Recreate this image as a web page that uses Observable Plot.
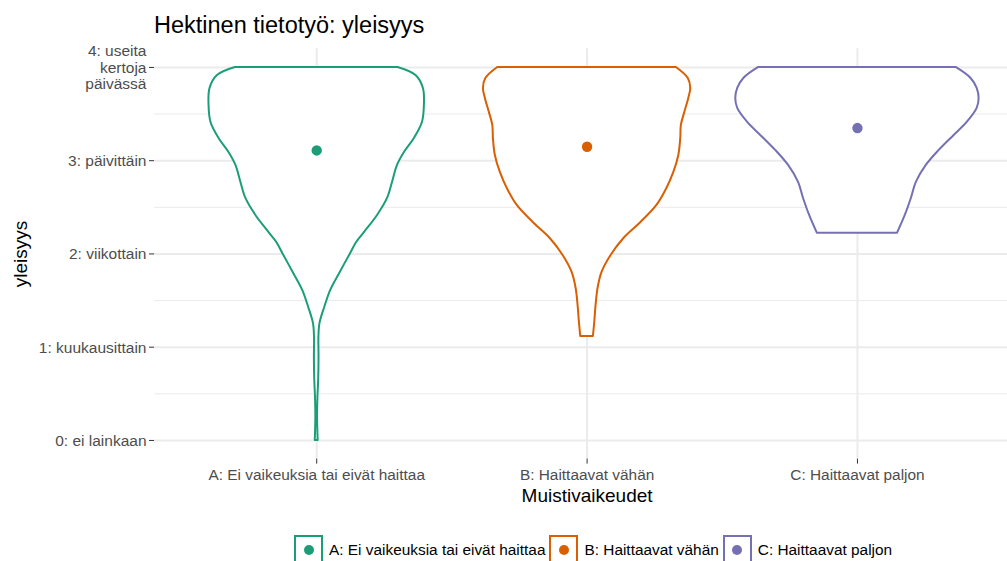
<!DOCTYPE html>
<html>
<head>
<meta charset="utf-8">
<script src="https://cdn.jsdelivr.net/npm/d3@7"></script>
<script src="https://cdn.jsdelivr.net/npm/@observablehq/plot@0.6"></script>
<style>
html, body { margin: 0; padding: 0; background: #fff; overflow: hidden; width: 1007px; height: 561px; font-family: "Liberation Sans", Arial, sans-serif; }
#wrap { position: relative; width: 1007px; height: 561px; overflow: hidden; }
#title { position: absolute; left: 154px; top: 14px; font-size: 23.5px; line-height: 23.5px; color: #000; white-space: nowrap; }
#chart { position: absolute; left: 0; top: 0; }
#legend { position: absolute; left: 294px; top: 535px; display: flex; align-items: center; height: 29px; font-size: 15.4px; color: #000; white-space: nowrap; }
.key { width: 25px; height: 25px; border: 2px solid; position: relative; background: #fff; flex: none; }
.key .pt { position: absolute; width: 10px; height: 10px; border-radius: 50%; left: 7.5px; top: 7.5px; }
.lab { margin-left: 6px; margin-right: 4px; }
</style>
</head>
<body>
<div id="wrap">
  <div id="title"></div>
  <div id="chart"></div>
  <div id="legend"></div>
</div>
<script>
// ---- data ----
const titleText = "Hektinen tietotyö: yleisyys";
const xTitle = "Muistivaikeudet";
const yTitle = "yleisyys";
const groups = ["A: Ei vaikeuksia tai eivät haittaa", "B: Haittaavat vähän", "C: Haittaavat paljon"];
const colors = ["#1b9e77", "#d95f02", "#7570b3"];
const yTicks = [0, 1, 2, 3, 4];
const yTickLabels = ["0: ei lainkaan", "1: kuukausittain", "2: viikottain", "3: päivittäin", "4: useita\nkertoja\npäivässä"];
const yMinor = [0.5, 1.5, 2.5, 3.5];
const means = [3.11, 3.15, 3.35];

// violin outlines: value levels and relative density (1 = widest violin)
const levelsA = [4.0, 3.914, 3.775, 3.592, 3.41, 3.239, 3.088, 2.949, 2.767, 2.595, 2.413, 2.231, 2.123, 2.005, 1.791, 1.609, 1.426, 1.255, 1.105, 0.89, 0.643, 0.461, 0.247, 0.0];
const densA   = [0.668, 0.816, 0.877, 0.885, 0.869, 0.803, 0.721, 0.664, 0.623, 0.582, 0.5, 0.393, 0.328, 0.279, 0.189, 0.115, 0.066, 0.027, 0.018, 0.019, 0.016, 0.01, 0.007, 0.012];
const levelsB = [4.0, 3.882, 3.775, 3.668, 3.517, 3.378, 3.239, 3.056, 2.874, 2.702, 2.52, 2.338, 2.166, 1.984, 1.802, 1.63, 1.448, 1.265, 1.115];
const densB   = [0.734, 0.832, 0.852, 0.836, 0.803, 0.775, 0.77, 0.754, 0.713, 0.656, 0.574, 0.443, 0.303, 0.197, 0.123, 0.09, 0.074, 0.063, 0.052];
const levelsC = [4.0, 3.882, 3.775, 3.668, 3.56, 3.41, 3.271, 3.11, 2.949, 2.767, 2.595, 2.413, 2.223];
const densC   = [0.811, 0.934, 0.984, 1.0, 0.984, 0.902, 0.795, 0.672, 0.566, 0.484, 0.443, 0.393, 0.33];

// ---- build tables ----
const levelSets = [levelsA, levelsB, levelsC];
const densSets = [densA, densB, densC];
const rows = [];
groups.forEach((g, i) => {
  levelSets[i].forEach((v, j) => rows.push({g, gi: i + 1, v, d: densSets[i][j]}));
});
const meanRows = groups.map((g, i) => ({g, gi: i + 1, m: means[i]}));
const halfMax = 0.45;

document.getElementById("title").textContent = titleText;

const H = 520;
const chart = Plot.plot({
  width: 1007,
  height: H,
  marginTop: 48.3,
  marginBottom: H - 458.6,
  marginLeft: 154,
  marginRight: 0,
  style: {fontFamily: "'Liberation Sans', Arial, sans-serif", background: "transparent", overflow: "visible"},
  x: {domain: [0.4, 3.555], axis: null},
  y: {domain: [-0.2, 4.2], axis: null},
  color: {domain: groups, range: colors},
  marks: [
    Plot.gridY(yMinor, {stroke: "#ebebeb", strokeOpacity: 1, strokeWidth: 1}),
    Plot.gridY(yTicks, {stroke: "#ebebeb", strokeOpacity: 1, strokeWidth: 2}),
    Plot.gridX([1, 2, 3], {stroke: "#ebebeb", strokeOpacity: 1, strokeWidth: 2}),
    Plot.areaX(rows, {
      y: "v",
      x1: r => r.gi - halfMax * r.d,
      x2: r => r.gi + halfMax * r.d,
      z: "g",
      fill: "white",
      stroke: "g",
      strokeWidth: 2,
      curve: "catmull-rom"
    }),
    Plot.dot(meanRows, {x: "gi", y: "m", r: 5.2, fill: "g", stroke: null}),
    Plot.axisY(yTicks, {
      tickFormat: d => yTickLabels[yTicks.indexOf(d)],
      tickSize: 5, tickPadding: 3, fontSize: 15.5, lineHeight: 1.07,
      fill: "#4d4d4d", stroke: "#333333", label: null
    }),
    Plot.axisX([1, 2, 3], {
      tickFormat: d => groups[d - 1],
      tickSize: 5, tickPadding: 5, fontSize: 15.4,
      fill: "#4d4d4d", stroke: "#333333", label: null
    }),
    Plot.text([xTitle], {x: [2], frameAnchor: "bottom", dy: 37, fontSize: 19, fill: "#000", textAnchor: "middle", lineAnchor: "middle"}),
    Plot.text([yTitle], {frameAnchor: "left", dx: -133.5, rotate: -90, fontSize: 19, fill: "#000", textAnchor: "middle", lineAnchor: "middle"})
  ]
});
document.getElementById("chart").appendChild(chart);

// legend
const leg = document.getElementById("legend");
groups.forEach((g, i) => {
  const k = document.createElement("div");
  k.className = "key";
  k.style.borderColor = colors[i];
  const p = document.createElement("div");
  p.className = "pt";
  p.style.background = colors[i];
  k.appendChild(p);
  const t = document.createElement("span");
  t.className = "lab";
  t.textContent = g;
  leg.appendChild(k);
  leg.appendChild(t);
});
</script>
</body>
</html>
